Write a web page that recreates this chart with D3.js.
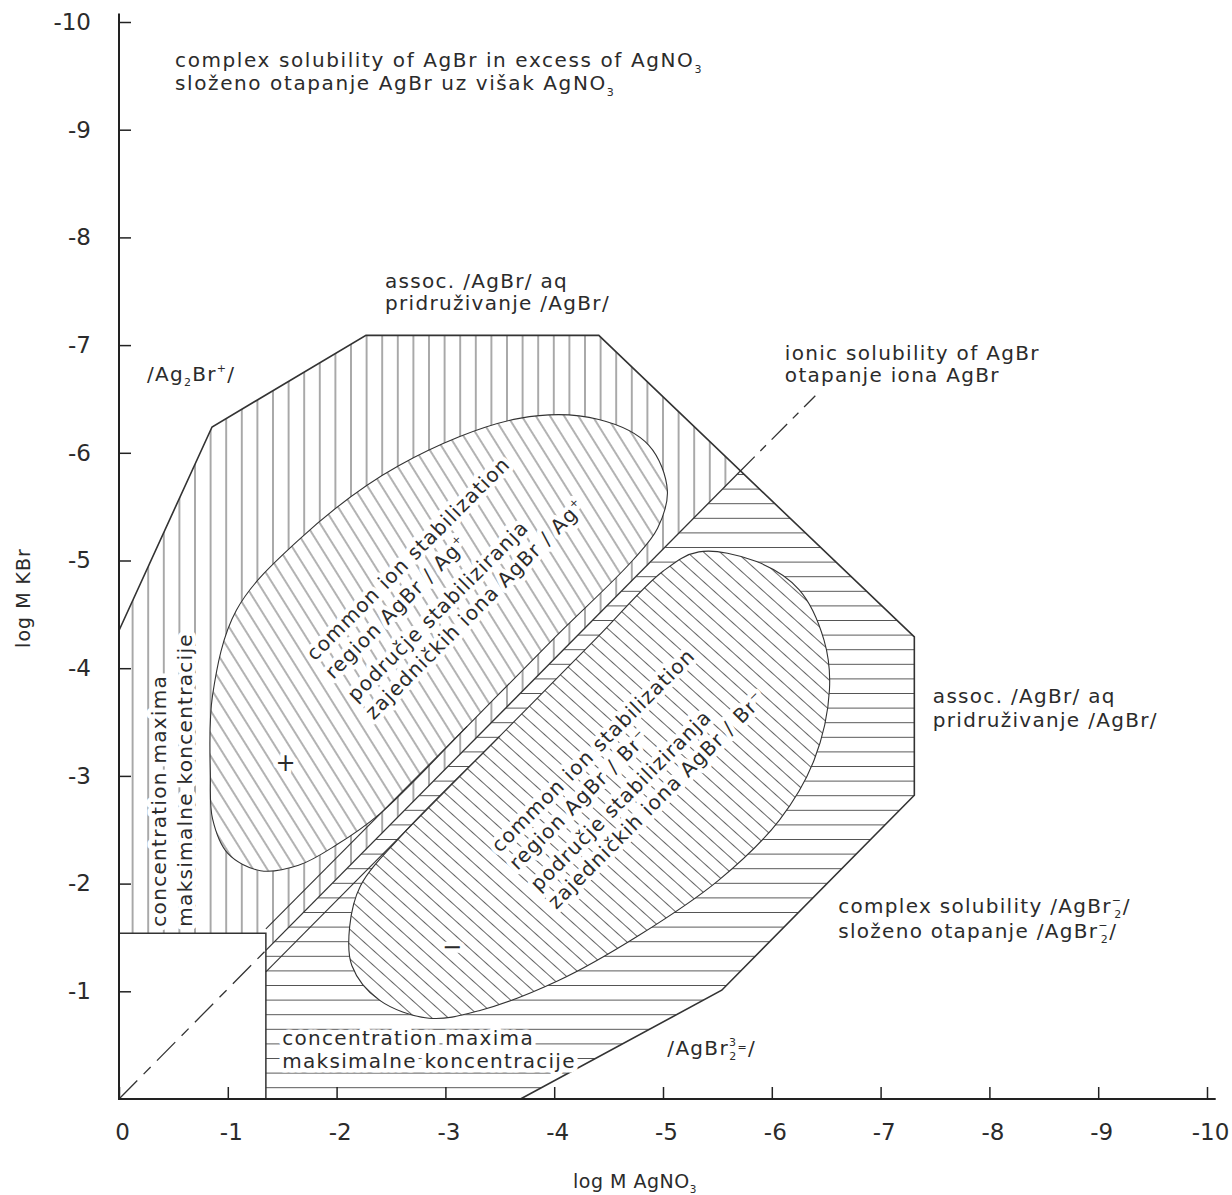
<!DOCTYPE html>
<html>
<head>
<meta charset="utf-8">
<script src="https://cdn.jsdelivr.net/npm/d3@7"></script>
<style>
  body { margin: 0; background: #fff; }
  text { font-family: "DejaVu Sans", sans-serif; fill: #2b2b2b; }
</style>
</head>
<body>
<svg id="chart" width="1232" height="1195"></svg>
<script>
// axis values (log M, both axes run 0 .. -10)
var xTicks = [0, -1, -2, -3, -4, -5, -6, -7, -8, -9, -10];
var yTicks = [-1, -2, -3, -4, -5, -6, -7, -8, -9, -10];

// outer boundary of the hatched field [log M AgNO3, log M KBr]
var outerBoundary = [[0, -4.35], [-0.855, -6.24], [-2.27, -7.09], [-4.41, -7.09], [-7.31, -4.29],
                     [-7.31, -2.82], [-5.54, -1.01], [-3.69, 0]];
// empty box near the origin
var emptyBox = [[0, -1.54], [-1.35, -1.54], [-1.35, 0]];
// ionic solubility line, break points: dashed / solid / dashed
var ionicLine = [[0, 0], [-1.35, -1.38], [-5.7, -5.82], [-6.4, -6.53]];
// edges of the band along the ionic line (lower-left part, the regions carry on from there)
var bandUpper = [[-1.35, -1.58], [-3.2, -3.46]];
var bandLower = [[-1.35, -1.18], [-3.5, -3.37]];
// common ion stabilization regions
var agRegion = [[-0.84, -3.0], [-0.86, -3.75], [-1.08, -4.54], [-1.65, -5.19], [-2.57, -5.88], [-3.68, -6.32],
                [-4.41, -6.31], [-4.87, -6.07], [-5.04, -5.65], [-4.95, -5.3], [-4.72, -5.0], [-4.0, -4.28],
                [-3.2, -3.46], [-2.4, -2.65], [-2.0, -2.36], [-1.65, -2.17], [-1.3, -2.12], [-1.0, -2.28], [-0.86, -2.6]];
var brRegion = [[-5.0, -4.9], [-5.33, -5.08], [-5.86, -4.99], [-6.25, -4.73], [-6.48, -4.26], [-6.53, -3.8],
                [-6.39, -3.15], [-6.07, -2.59], [-5.51, -2.03], [-4.78, -1.52], [-4.04, -1.1], [-3.31, -0.82],
                [-2.85, -0.75], [-2.39, -0.92], [-2.14, -1.24], [-2.12, -1.6], [-2.22, -1.98], [-2.6, -2.45],
                [-3.5, -3.37], [-4.4, -4.29]];

var svg = d3.select("#chart");
var x = d3.scaleLinear().domain([0, -10]).range([119, 1207]);
var y = d3.scaleLinear().domain([0, -10]).range([1099, 22]);

var line = d3.line().x(function(d) { return x(d[0]); }).y(function(d) { return y(d[1]); });
var blob = d3.line().x(function(d) { return x(d[0]); }).y(function(d) { return y(d[1]); })
    .curve(d3.curveCatmullRomClosed.alpha(0.5));

var defs = svg.append("defs");

// hatch patterns
function hatch(id, size, angle, color) {
    var p = defs.append("pattern")
        .attr("id", id)
        .attr("patternUnits", "userSpaceOnUse")
        .attr("width", size)
        .attr("height", size)
        .attr("patternTransform", "rotate(" + angle + ")");
    p.append("line")
        .attr("x1", size / 2).attr("x2", size / 2)
        .attr("y1", -1).attr("y2", size + 1)
        .attr("stroke", color).attr("stroke-width", 1);
}
hatch("vHatch", 15.6, 0, "#555");
hatch("hHatch", 14.6, 90, "#555");
hatch("agHatch", 12, -32, "#666");
hatch("brHatch", 11, -48, "#666");

// clip regions
var outerClosed = outerBoundary.concat([[0, 0]]);
defs.append("clipPath").attr("id", "clipOuter")
    .append("path").attr("d", line(outerClosed) + "Z");
defs.append("clipPath").attr("id", "clipAbove")
    .append("path").attr("d", line([[0.5, 0.51], [-11, -11.22], [-11, -12], [0.5, -12]]) + "Z");
defs.append("clipPath").attr("id", "clipBelow")
    .append("path").attr("d", line([[0.5, 0.51], [-11, -11.22], [-11, 1], [0.5, 1]]) + "Z");

// vertical hatch above, horizontal hatch below the ionic line
var field = svg.append("g").attr("clip-path", "url(#clipOuter)");
field.append("g").attr("clip-path", "url(#clipAbove)")
    .append("rect").attr("x", 0).attr("y", 0).attr("width", 1232).attr("height", 1195)
    .attr("fill", "url(#vHatch)");
field.append("g").attr("clip-path", "url(#clipBelow)")
    .append("rect").attr("x", 0).attr("y", 0).attr("width", 1232).attr("height", 1195)
    .attr("fill", "url(#hHatch)");

// empty box
svg.append("path")
    .attr("d", line([[0, 0]].concat(emptyBox)) + "Z")
    .attr("fill", "#fff");

// stabilization regions
[[agRegion, "agHatch"], [brRegion, "brHatch"]].forEach(function(r) {
    svg.append("path").attr("d", blob(r[0])).attr("fill", "#fff");
    svg.append("path").attr("d", blob(r[0])).attr("fill", "url(#" + r[1] + ")");
});

var outlines = svg.append("g").attr("fill", "none").attr("stroke", "#333");
outlines.append("path").attr("d", line(outerBoundary)).attr("stroke-width", 1.6);
outlines.append("path").attr("d", line(emptyBox)).attr("stroke-width", 1.5);
outlines.append("path").attr("d", line(bandUpper)).attr("stroke-width", 1.1);
outlines.append("path").attr("d", line(bandLower)).attr("stroke-width", 1.1);
outlines.append("path").attr("d", blob(agRegion)).attr("stroke-width", 1.1);
outlines.append("path").attr("d", blob(brRegion)).attr("stroke-width", 1.1);

// ionic solubility line
var segStyle = ["26,9,10,9", null, "22,8,8,8"];
for (var i = 0; i < ionicLine.length - 1; i++) {
    outlines.append("path")
        .attr("d", line([ionicLine[i], ionicLine[i + 1]]))
        .attr("stroke-width", 1.3)
        .attr("stroke-dasharray", segStyle[i]);
}

// axes
var axisColor = "#222";
var yAxis = svg.append("g")
    .attr("transform", "translate(" + x(0) + ",0)")
    .call(d3.axisLeft(y).tickValues(yTicks).tickSizeInner(-12).tickSizeOuter(0).tickPadding(28)
        .tickFormat(function(d) { return String(d); }));
var xAxis = svg.append("g")
    .attr("transform", "translate(0," + y(0) + ")")
    .call(d3.axisBottom(x).tickValues(xTicks).tickSizeInner(-12).tickSizeOuter(0).tickPadding(25)
        .tickFormat(function(d) { return String(d); }));
[yAxis, xAxis].forEach(function(a) {
    a.select(".domain").remove();
    a.selectAll(".tick line").attr("stroke", axisColor).attr("stroke-width", 1.5);
    a.selectAll(".tick text").attr("font-family", "DejaVu Sans").attr("font-size", 23).attr("fill", "#222");
});
xAxis.selectAll(".tick text").attr("dx", 3);
svg.append("path").attr("d", line([[0, -10.08], [0, 0], [-10.08, 0]]))
    .attr("fill", "none").attr("stroke", axisColor).attr("stroke-width", 2);

// text helpers
function rich(t, parts, size) {
    var shift = 0;
    parts.forEach(function(p) {
        var kind = p[1] || "n";
        var off = kind == "sub" ? 0.28 * size : kind == "sup" ? -0.42 * size : kind == "mid" ? -0.18 * size : 0;
        var ts = t.append("tspan").text(p[0]).attr("dy", off - shift);
        if (kind != "n") ts.attr("font-size", size * 0.55);
        if (p[2]) ts.attr("dx", p[2]);
        shift = off;
    });
    return t;
}
function label(px, py, lines, opt) {
    opt = opt || {};
    var size = opt.size || 20;
    var g = svg.append("g").attr("transform", "translate(" + x(px) + "," + y(py) + ")" + (opt.rotate ? " rotate(" + opt.rotate + ")" : ""));
    lines.forEach(function(l, i) {
        var t = g.append("text")
            .attr("x", 0).attr("y", opt.offsets ? opt.offsets[i] : i * (opt.lead || 23))
            .attr("font-size", size)
            .attr("letter-spacing", opt.spacing == null ? 1.3 : opt.spacing)
            .attr("text-anchor", opt.anchor || "start");
        if (opt.halo) {
            t.attr("stroke", "#fff").attr("stroke-width", 9).attr("stroke-linejoin", "round")
                .attr("paint-order", "stroke");
        }
        rich(t, typeof l == "string" ? [[l]] : l, size);
    });
    return g;
}

label(-0.515, -9.58, [
    [["complex solubility of AgBr in excess of AgNO"], ["3", "sub"]],
    [["složeno otapanje AgBr uz višak AgNO"], ["3", "sub"]]
], { spacing: 1.6 });
label(-2.445, -7.53, ["assoc. /AgBr/ aq", "pridruživanje /AgBr/"], { lead: 22 });
label(-0.257, -6.67, [[["/Ag"], ["2", "sub"], ["Br"], ["+", "sup"], ["/"]]]);
label(-6.12, -6.86, ["ionic solubility of AgBr", "otapanje iona AgBr"], { lead: 22 });
label(-7.48, -3.68, ["assoc. /AgBr/ aq", "pridruživanje /AgBr/"], { lead: 24 });
label(-6.61, -1.73, [
    [["complex solubility  /AgBr"], ["−", "sup"], ["2", "sub", -8], ["/"]],
    [["složeno otapanje  /AgBr"], ["−", "sup"], ["2", "sub", -8], ["/"]]
], { lead: 25 });
label(-5.04, -0.41, [[["/AgBr"], ["3", "sup"], ["2", "sub", -8], ["=", "mid"], ["/"]]]);

label(-1.5, -0.5, ["concentration maxima", "maksimalne koncentracije"], { halo: true });
label(-0.43, -1.6, ["concentration maxima"], { rotate: -90, halo: true });
label(-0.67, -1.6, ["maksimalne koncentracije"], { rotate: -90, halo: true });

label(-1.8, -4.06, [
    "common ion stabilization",
    [["region  AgBr / Ag"], ["+", "sup"]],
    "područje  stabiliziranja",
    [["zajedničkih iona  AgBr / Ag"], ["+", "sup"]]
], { rotate: -45, offsets: [0, 26, 58, 83], halo: true, spacing: 1.1 });
label(-3.5, -2.28, [
    "common ion stabilization",
    [["region  AgBr / Br"], ["−", "sup"]],
    "područje  stabiliziranja",
    [["zajedničkih iona  AgBr / Br"], ["−", "sup"]]
], { rotate: -45, offsets: [0, 25, 55, 80], halo: true, spacing: 1.1 });

label(-1.53, -3.05, ["+"], { size: 24, anchor: "middle", spacing: 0, halo: true });
label(-3.06, -1.34, ["−"], { size: 24, anchor: "middle", spacing: 0, halo: true });

// axis titles
svg.append("text")
    .attr("transform", "translate(30,598) rotate(-90)")
    .attr("text-anchor", "middle").attr("font-size", 19).attr("letter-spacing", 1)
    .text("log M KBr");
rich(svg.append("text")
    .attr("x", 635).attr("y", 1188)
    .attr("text-anchor", "middle").attr("font-size", 19).attr("letter-spacing", 0.5),
    [["log M  AgNO"], ["3", "sub"]], 19);
</script>
</body>
</html>
